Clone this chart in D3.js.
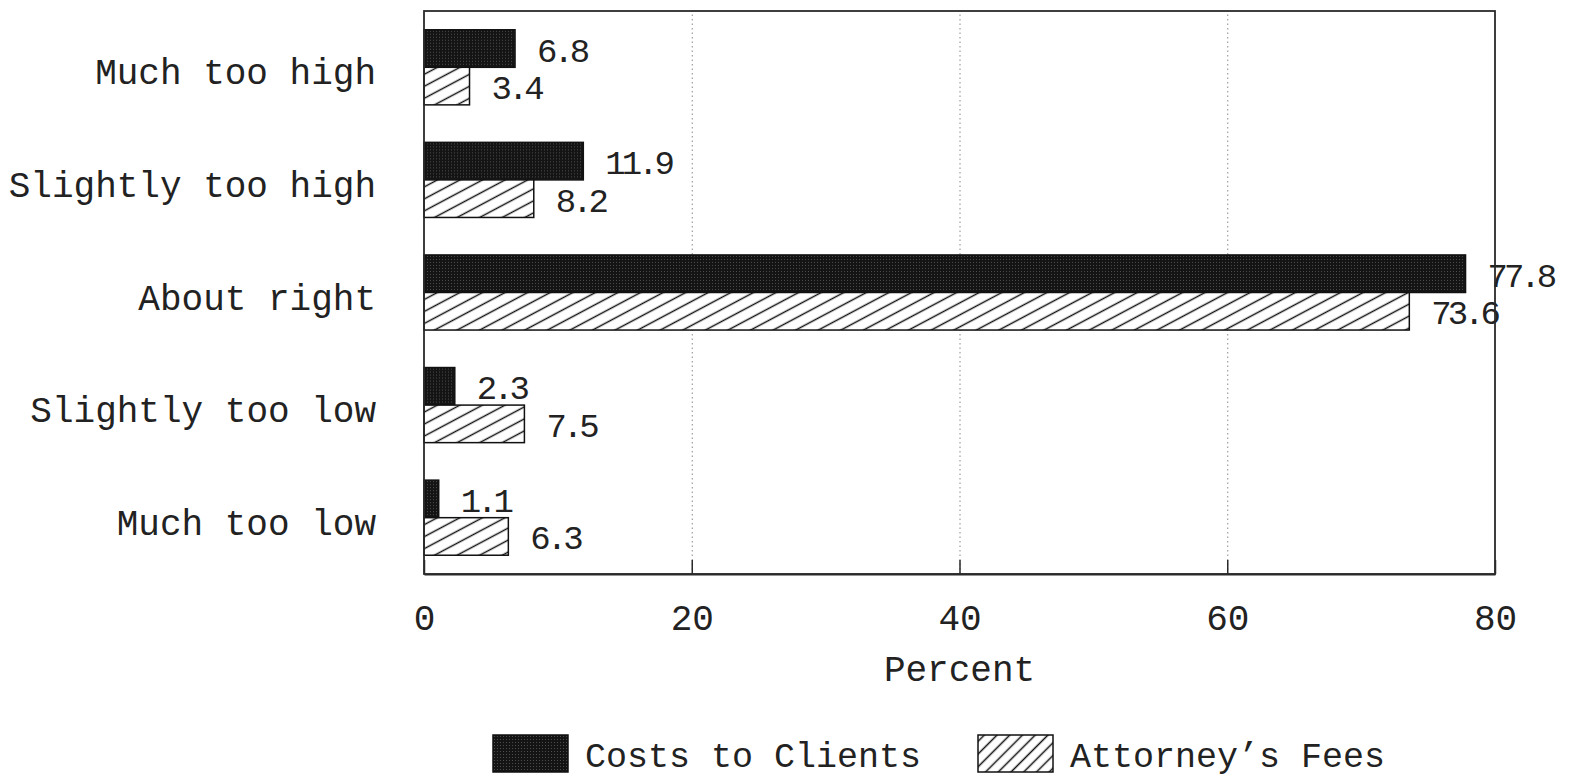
<!DOCTYPE html>
<html>
<head>
<meta charset="utf-8">
<script src="https://cdn.jsdelivr.net/npm/d3@7"></script>
<style>
  body { margin: 0; background: #fff; }
  text { font-family: "Liberation Mono", "DejaVu Sans Mono", monospace; fill: #222; }
</style>
</head>
<body>
<svg id="chart" width="1570" height="778"></svg>
<script>
// Survey responses: how fair are costs and fees, percent of respondents
const categories = ["Much too high", "Slightly too high", "About right", "Slightly too low", "Much too low"];
const seriesNames = ["Costs to Clients", "Attorney’s Fees"];
const costsToClients = [6.8, 11.9, 77.8, 2.3, 1.1];
const attorneysFees = [3.4, 8.2, 73.6, 7.5, 6.3];
const xTicks = [0, 20, 40, 60, 80];
const gridTicks = [20, 40, 60];
const axisTitle = "Percent";

const svg = d3.select("#chart");
const plot = { left: 424, right: 1495, top: 11, bottom: 574 };

const x = d3.scaleLinear().domain([0, 80]).range([plot.left, plot.right]);
const y = d3.scaleBand().domain(categories).range([plot.top, plot.bottom])
  .paddingInner(0.333).paddingOuter(0.1667);
const ySub = d3.scaleBand().domain(seriesNames).range([0, y.bandwidth()]);

// Fill patterns: dense dark screen and diagonal hatch
const defs = svg.append("defs");
const solid = defs.append("pattern").attr("id", "solidFill")
  .attr("patternUnits", "userSpaceOnUse").attr("width", 3).attr("height", 3);
solid.append("rect").attr("width", 3).attr("height", 3).attr("fill", "#141414");
solid.append("rect").attr("x", 1).attr("y", 1).attr("width", 1).attr("height", 1).attr("fill", "#4d4d4d");

function hatchPattern(id, angle, gap) {
  const p = defs.append("pattern").attr("id", id)
    .attr("patternUnits", "userSpaceOnUse")
    .attr("width", 40).attr("height", gap)
    .attr("patternTransform", `rotate(${-angle})`);
  p.append("rect").attr("width", 40).attr("height", gap).attr("fill", "#fff");
  p.append("line").attr("x1", 0).attr("x2", 40).attr("y1", gap / 2).attr("y2", gap / 2)
    .attr("stroke", "#111").attr("stroke-width", 1.6);
}
hatchPattern("hatchBar", 28, 10.6);
hatchPattern("hatchKey", 45, 9);

const fills = { [seriesNames[0]]: "url(#solidFill)", [seriesNames[1]]: "url(#hatchBar)" };
const keyFills = { [seriesNames[0]]: "url(#solidFill)", [seriesNames[1]]: "url(#hatchKey)" };

// Dotted vertical gridlines
svg.append("g")
  .attr("transform", `translate(0,${plot.bottom})`)
  .call(d3.axisBottom(x).tickValues(gridTicks).tickSize(-(plot.bottom - plot.top)).tickFormat(""))
  .call(g => g.select(".domain").remove())
  .call(g => g.selectAll(".tick line").attr("stroke", "#8a8a8a").attr("stroke-width", 1)
    .attr("stroke-dasharray", "1.5,3"));

// Bars
const rows = categories.map((c, i) => ({
  category: c,
  values: [
    { series: seriesNames[0], value: costsToClients[i] },
    { series: seriesNames[1], value: attorneysFees[i] }
  ]
}));

const groups = svg.append("g").selectAll("g").data(rows).join("g")
  .attr("transform", d => `translate(0,${y(d.category)})`);

groups.selectAll("rect").data(d => d.values).join("rect")
  .attr("x", x(0))
  .attr("y", d => ySub(d.series))
  .attr("width", d => x(d.value) - x(0))
  .attr("height", ySub.bandwidth())
  .attr("fill", d => fills[d.series])
  .attr("stroke", "#111")
  .attr("stroke-width", 1.5);

// Value labels sit just past the bar end, kept clear of the axis for tiny bars
groups.selectAll("text.value").data(d => d.values).join("text")
  .attr("class", "value")
  .attr("x", d => Math.max(x(d.value) + 22, x(0) + 28))
  .attr("y", d => ySub(d.series) + ySub.bandwidth() / 2 + 13)
  .attr("font-size", 34)
  .attr("letter-spacing", -4)
  .text(d => d3.format(".1f")(d.value));

// Plot frame
svg.append("rect")
  .attr("x", plot.left).attr("y", plot.top)
  .attr("width", x(80) - plot.left).attr("height", plot.bottom - plot.top)
  .attr("fill", "none").attr("stroke", "#2a2a2a").attr("stroke-width", 1.8);

// Bottom axis: short inward ticks and labels
svg.append("g")
  .attr("transform", `translate(0,${plot.bottom})`)
  .call(d3.axisBottom(x).tickValues(xTicks).tickSizeInner(-14).tickSizeOuter(0).tickPadding(30))
  .call(g => g.select(".domain").attr("stroke", "#2a2a2a").attr("stroke-width", 2))
  .call(g => g.selectAll(".tick line").attr("stroke", "#2a2a2a").attr("stroke-width", 1.5))
  .call(g => g.selectAll(".tick text").attr("font-size", 36)
    .attr("font-family", "\"Liberation Mono\", monospace").attr("fill", "#222"));

svg.append("text")
  .attr("x", (plot.left + plot.right) / 2)
  .attr("y", 681)
  .attr("text-anchor", "middle")
  .attr("font-size", 36)
  .text(axisTitle);

// Category labels
svg.append("g").selectAll("text").data(categories).join("text")
  .attr("x", 376)
  .attr("y", d => y(d) + y.bandwidth() / 2 + 17)
  .attr("text-anchor", "end")
  .attr("font-size", 36)
  .text(d => d);

// Legend
const legendItems = [
  { name: seriesNames[0], x: 493 },
  { name: seriesNames[1], x: 978 }
];
const legend = svg.append("g").selectAll("g").data(legendItems).join("g")
  .attr("transform", d => `translate(${d.x},735)`);
legend.append("rect")
  .attr("width", 75).attr("height", 37)
  .attr("fill", d => keyFills[d.name])
  .attr("stroke", "#111").attr("stroke-width", 1.5);
legend.append("text")
  .attr("x", 92).attr("y", 32)
  .attr("font-size", 35)
  .text(d => d.name);
</script>
</body>
</html>
